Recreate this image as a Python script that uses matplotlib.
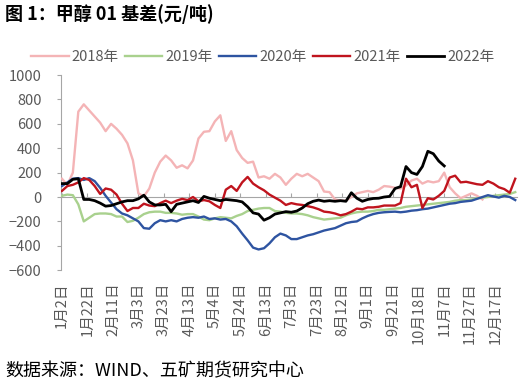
import numpy as np
import matplotlib
matplotlib.use('Agg')
import matplotlib.pyplot as plt

plt.rcParams['font.family'] = ['Noto Sans CJK SC', 'DejaVu Sans']

# x axis: trading-day categories, one sample every STEP categories
STEP = 3
TICK_EVERY = 14
tick_labels = ['1月2日', '1月22日', '2月11日', '3月3日', '3月23日', '4月13日',
               '5月4日', '5月24日', '6月13日', '7月3日', '7月23日', '8月12日',
               '9月1日', '9月21日', '10月18日', '11月7日', '11月27日', '12月17日']

v2018 = [150, 100, 200, 700, 760, 710, 660, 610, 540, 600, 560, 510, 440, 300,
         30, 5, 70, 200, 290, 340, 300, 240, 260, 235, 300, 480, 535, 540, 620,
         670, 460, 540, 385, 320, 280, 290, 160, 170, 150, 190, 160, 100, 150,
         190, 170, 190, 160, 130, 45, 40, -20, -30, -30, 0, 30, 40, 50, 40, 60,
         90, 85, 75, 70, 95, 135, 150, 110, 130, 120, 130, 200, 80, 30, -10, 10,
         30, 10, -20]

v2019 = [10, 20, 15, -60, -200, -170, -140, -135, -135, -140, -160, -160, -205,
         -195, -170, -140, -125, -120, -120, -130, -130, -135, -145, -140, -140,
         -160, -185, -190, -175, -165, -170, -175, -155, -140, -115, -105, -95,
         -90, -90, -115, -120, -130, -135, -135, -140, -150, -165, -175, -185,
         -180, -175, -170, -150, -135, -125, -120, -120, -115, -105, -105, -100,
         -95, -90, -80, -75, -70, -65, -60, -55, -50, -45, -40, -30, -25, -25,
         -20, -10, -5, 0, 10, 15, 20, 25, 40]

v2020 = [90, 120, 150, 155, 140, 155, 130, 75, 10, -45, -100, -135, -150, -175,
         -200, -255, -260, -215, -190, -200, -190, -200, -180, -170, -165, -170,
         -160, -180, -175, -185, -180, -200, -240, -300, -355, -415, -430, -420,
         -380, -330, -300, -315, -345, -345, -330, -315, -305, -290, -275, -265,
         -255, -235, -215, -205, -200, -175, -155, -140, -130, -125, -122, -120,
         -125, -120, -112, -108, -100, -95, -85, -75, -65, -55, -50, -40, -35,
         -30, -15, 0, 15, 5, -5, 10, 0, -25]

v2021 = [50, 90, 100, 120, 155, 140, 90, 25, 70, 60, 20, -55, -115, -90, -90,
         -55, -70, -75, -50, -30, -50, -30, -15, -25, 0, -35, -25, -35, -65, -90,
         60, 90, 50, 120, 165, 110, 80, 55, 20, -5, -30, -65, -50, -60, -65, -75,
         -85, -100, -120, -125, -135, -150, -140, -120, -95, -100, -85, -85, -80,
         -70, -70, -70, -50, 150, 80, 100, -90, -10, -20, 10, 50, 160, 175, 120,
         125, 115, 105, 100, 130, 110, 80, 65, 35, 150]

v2022 = [110, 110, 145, 150, -20, -20, -30, -50, -75, -70, -55, -40, -30, -30,
         -15, 15, -40, -65, -65, -60, -120, -60, -50, -40, -30, -45, 5, -10, -20,
         -30, -20, -25, -30, -40, -80, -130, -140, -190, -170, -140, -130, -120,
         -125, -115, -90, -55, -35, -25, -35, -30, -35, -30, -35, 35, -10, -35,
         -20, -12, -10, 0, 5, 70, 85, 250, 200, 185, 250, 375, 355, 295, 255]

series = [
    ('2018年', v2018, '#F4B4B6', 1.7),
    ('2019年', v2019, '#A9D18E', 1.7),
    ('2020年', v2020, '#2E54A1', 1.7),
    ('2021年', v2021, '#C0141E', 1.7),
    ('2022年', v2022, '#000000', 2.0),
]

fig = plt.figure(figsize=(5.26, 3.91), dpi=100)
ax = fig.add_axes([0.116, 0.309, 0.867, 0.499])

for name, vals, col, lw in series:
    x = np.arange(len(vals)) * STEP
    ax.plot(x, vals, color=col, lw=lw, label=name, zorder=3)

ax.set_ylim(-600, 1000)
ax.set_yticks(range(-600, 1001, 200))
ax.set_xlim(-0.5, 250)
ticks = np.arange(len(tick_labels)) * TICK_EVERY
ax.set_xticks(ticks)
ax.set_xticklabels([])

grey = '#A6A6A6'
ax.spines[['top', 'right']].set_visible(False)
ax.spines['left'].set_color(grey)
ax.spines['bottom'].set_position(('data', 0))
ax.spines['bottom'].set_color(grey)
ax.tick_params(axis='x', direction='in', length=3, color=grey)
ax.tick_params(axis='y', direction='out', length=3, color=grey,
               labelcolor='#595959', labelsize=10.5, pad=11)

sec = ax.secondary_xaxis('bottom')
sec.set_xticks(ticks, labels=tick_labels)
sec.tick_params(length=0, pad=9, labelsize=10.5, labelcolor='#595959',
                labelrotation=90)
sec.spines['bottom'].set_visible(False)

fig.legend(loc='center', bbox_to_anchor=(0.5, 0.854), ncol=5, frameon=False,
           fontsize=10.5, handlelength=2.55, handletextpad=0.2,
           columnspacing=0.45, borderpad=0, labelcolor='#595959')

fig.text(0.0095, 0.965, '图 1：甲醇 01 基差(元/吨)', fontsize=13,
         fontweight='bold', va='center', ha='left')
fig.text(0.0095, 0.051, '数据来源：WIND、五矿期货研究中心', fontsize=13,
         va='center', ha='left')

fig.savefig('out.png', dpi=100)
